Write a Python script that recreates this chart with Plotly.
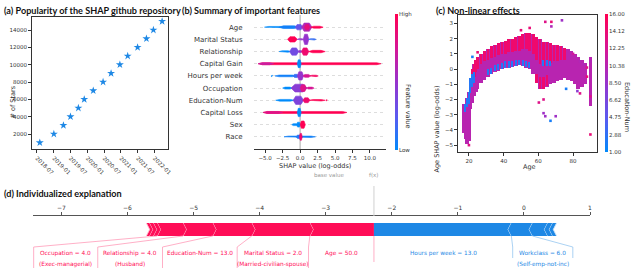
import plotly.graph_objects as go
from plotly.colors import sample_colorscale

W, H = 640, 268

# ---------------- (a) popularity ----------------
STAR_DATES = ['2018-08-01', '2019-01-01', '2019-04-15', '2019-07-01', '2019-09-25',
              '2019-11-28', '2020-03-05', '2020-06-20', '2020-09-15', '2020-12-20',
              '2021-03-15', '2021-07-01', '2021-10-05', '2021-12-20', '2022-03-25']
STAR_COUNTS = [1000, 2000, 3000, 4000, 5000, 6000, 7000, 8000, 9000, 10000,
               11000, 12000, 13000, 14000, 15000]
DATE_TICKS = ['2018-07-01', '2019-01-01', '2019-07-01', '2020-01-01',
              '2020-07-01', '2021-01-01', '2021-07-01', '2022-01-01']
DATE_TICK_TEXT = ['2018-07', '2019-01', '2019-07', '2020-01',
                  '2020-07', '2021-01', '2021-07', '2022-01']
STAR_TICKS = [2000, 4000, 6000, 8000, 10000, 12000, 14000]

# ---------------- (b) summary (beeswarm density segments) ----------------
# (x0, x1, half-thickness in rows, feature value 0..1)
FEATURES = ['Age', 'Marital Status', 'Relationship', 'Capital Gain', 'Hours per week',
            'Occupation', 'Education-Num', 'Capital Loss', 'Sex', 'Race']
SWARM_AGE = [(-5.1, -0.5, 0.06, 0.0), (-3.0, -0.2, 0.11, 0.05), (-0.7, 0.4, 0.22, 0.3),
             (0.2, 1.7, 0.34, 0.6), (0.6, 1.4, 0.22, 0.85), (1.5, 3.3, 0.08, 1.0)]
SWARM_MARITAL = [(-1.8, -0.4, 0.22, 1.0), (-0.4, 0.5, 0.06, 0.5), (0.45, 1.25, 0.42, 0.5),
                 (1.2, 2.3, 0.06, 0.15)]
SWARM_RELATIONSHIP = [(-3.0, -1.3, 0.06, 0.0), (-1.5, -0.2, 0.3, 0.35), (-0.3, 0.3, 0.08, 0.5),
                      (0.2, 1.25, 0.3, 0.9), (1.2, 3.6, 0.1, 1.0)]
SWARM_CAPGAIN = [(-6.0, 11.6, 0.08, 1.0), (-6.0, -3.8, 0.08, 0.7), (-0.4, 0.15, 0.32, 0.0)]
SWARM_HOURS = [(-4.15, -3.95, 0.06, 0.0), (-3.6, -0.5, 0.07, 0.05), (-1.0, -0.2, 0.13, 0.15),
               (-0.4, 0.5, 0.34, 0.5), (0.4, 1.5, 0.12, 0.75), (1.4, 2.6, 0.06, 0.95)]
SWARM_OCCUPATION = [(-2.5, -1.1, 0.08, 0.0), (-1.3, 1.0, 0.32, 0.45), (0.0, 0.9, 0.28, 0.8),
                    (0.9, 2.0, 0.08, 0.75)]
SWARM_EDUCATION = [(-3.5, -0.8, 0.07, 0.0), (-1.0, 0.5, 0.34, 0.4), (0.4, 1.4, 0.2, 0.9),
                   (1.3, 3.6, 0.06, 1.0), (3.72, 3.88, 0.06, 1.0)]
SWARM_CAPLOSS = [(-5.3, 6.7, 0.08, 1.0), (-5.3, -2.5, 0.08, 0.8), (-0.4, 0.15, 0.34, 0.0)]
SWARM_SEX = [(-1.2, -0.3, 0.08, 0.0), (-0.5, 0.05, 0.2, 0.0), (0.0, 0.75, 0.3, 1.0)]
SWARM_RACE = [(-2.3, 2.2, 0.06, 0.05), (-0.6, 0.4, 0.14, 0.1), (-0.1, 0.3, 0.28, 0.9)]
SWARMS = [SWARM_AGE, SWARM_MARITAL, SWARM_RELATIONSHIP, SWARM_CAPGAIN, SWARM_HOURS,
          SWARM_OCCUPATION, SWARM_EDUCATION, SWARM_CAPLOSS, SWARM_SEX, SWARM_RACE]
SHAP_TICKS = [-5, -2.5, 0, 2.5, 5, 7.5, 10]
SHAP_TICK_TEXT = ['\u22125.0', '\u22122.5', '0.0', '2.5', '5.0', '7.5', '10.0']
FEATURE_VALUE_LEVELS = [0.0, 0.25, 0.5, 0.75, 1.0]

# ---------------- (c) dependence ----------------
DEP_AGE = [17, 18, 19, 20, 21, 22, 23, 24, 25, 27, 29, 31, 33, 35, 37, 39, 41, 43, 45, 47, 49,
           51, 53, 55, 57, 59, 61, 63, 65, 67, 69, 71, 73, 75, 77, 79, 81, 83, 85, 87, 90]
DEP_LO = [-4.2, -4.6, -4.9, -4.7, -2.6, -2.2, -1.8, -1.5, -1.3, -0.9, -0.7, -0.5, -0.35, -0.2,
          -0.1, 0.0, 0.05, 0.1, 0.15, 0.2, 0.25, 0.2, 0.1, 0.0, -0.3, -0.9, -1.3, -1.3, -1.2,
          -1.0, -0.9, -0.8, -0.7, -0.6, -0.7, -0.8, -1.0, -1.3, -1.2, -1.0, -2.4]
DEP_HI = [-2.3, -2.3, -1.9, -1.5, -0.6, 0.0, 0.3, 0.6, 0.8, 1.0, 1.2, 1.3, 1.5, 1.6, 1.7, 1.8,
          1.85, 1.95, 2.0, 2.1, 2.2, 2.3, 2.4, 2.4, 2.3, 2.1, 2.0, 1.8, 1.8, 1.7, 1.6, 1.6, 1.5,
          1.4, 1.3, 1.2, 1.0, 0.8, 0.6, 0.4, 0.8]
DEP_RED_AGE = [22, 23, 24, 25, 27, 29, 31, 33, 35, 37, 39, 41, 43, 45, 47, 49, 51, 53, 55, 57,
               59, 61, 63, 65, 67, 69, 71, 73, 75, 59, 61, 63, 65]
DEP_RED_LO = [-0.8, -0.5, -0.2, 0.0, 0.3, 0.5, 0.6, 0.7, 0.8, 0.9, 1.0, 1.0, 1.1, 1.1, 1.2, 1.2,
              1.3, 1.3, 1.2, 1.0, 0.6, 0.3, 0.2, 0.3, 0.4, 0.5, 0.5, 0.6, 0.6,
              -0.9, -1.3, -1.3, -1.1]
DEP_RED_HI = [0.0, 0.3, 0.6, 0.8, 1.0, 1.2, 1.3, 1.5, 1.6, 1.7, 1.8, 1.85, 1.95, 2.0, 2.1, 2.2,
              2.3, 2.4, 2.4, 2.3, 2.1, 2.0, 1.8, 1.8, 1.7, 1.6, 1.6, 1.5, 1.4,
              -0.3, -0.5, -0.5, -0.4]
DEP_BLUE_AGE = [18, 19, 20, 21, 22, 23, 31, 33, 35, 37, 39, 41, 43, 45, 47, 49, 51, 53, 55,
                63, 65, 67]
DEP_BLUE_LO = [-2.8, -2.5, -2.3, -1.6, -1.2, -0.9, -0.4, -0.3, -0.15, -0.05, 0.0, 0.05, 0.1,
               0.15, 0.2, 0.25, 0.2, 0.15, 0.1, 0.2, 0.2, 0.2]
DEP_BLUE_HI = [-2.3, -1.9, -1.5, -0.6, -0.3, -0.2, 0.0, 0.1, 0.25, 0.35, 0.4, 0.5, 0.5, 0.55,
               0.6, 0.6, 0.6, 0.5, 0.45, 0.6, 0.6, 0.5]
DEP_PTS_AGE = [60.3, 63, 63, 64, 70, 67, 64, 67.5, 73.6, 67.5, 82.5, 84, 90, 20, 22, 25, 55,
               50, 88, 86, 88, 90, 90, 76, 84, 80]
DEP_PTS_Y = [-2.2, -2.0, -2.9, -3.1, -3.1, -3.4, 3.1, 3.1, 3.2, 2.8, -1.45, -1.6, -4.3, -5.0,
             0.8, 1.1, 2.7, 2.55, -0.5, 0.3, 0.1, -1.8, 0.5, -1.3, 0.5, 1.0]
DEP_PTS_EDU = [13, 13, 9, 9, 9, 2, 13, 14, 9, 10, 8, 13, 14, 13, 2, 14, 14, 14, 14, 10, 13,
               13, 10, 2, 10, 12]
EDU_TICKS = [1.0, 2.875, 4.75, 6.625, 8.5, 10.375, 12.25, 14.125, 16.0]
EDU_TICK_TEXT = ['1.00', '2.88', '4.75', '6.62', '8.50', '10.38', '12.25', '14.12', '16.00']

# ---------------- (d) force plot ----------------
BASE_VALUE = -2.95
POS_VALUES = [0.97, 0.88, 0.59, 0.45, 0.39, 0.06, 0.06, 0.045]
POS_LABELS = ['Age = 50.0', 'Marital Status = 2.0', 'Education-Num = 13.0',
              'Relationship = 4.0', 'Occupation = 4.0']
POS_SUBLABELS = ['', '(Married-civilian-spouse)', '', '(Husband)', '(Exec-managerial)']
NEG_VALUES = [2.08, 0.32, 0.23, 0.075, 0.06]
NEG_LABELS = ['Hours per week = 13.0', 'Workclass = 6.0']
NEG_SUBLABELS = ['', '(Self-emp-not-inc)']
FORCE_TICKS = [-7, -6, -5, -4, -3, -2, -1, 0, 1]
# label box edges (layout of the text boxes under the bar)
POS_LABEL_EDGES = [-3.26, -4.34, -5.47, -6.45, -7.42]
NEG_LABEL_EDGES = [-0.17, 0.74]

# ---------------- styling ----------------
SHAP_SCALE = [[0.0, 'rgb(0,139,251)'], [0.25, 'rgb(90,90,240)'], [0.5, 'rgb(150,52,205)'],
              [0.75, 'rgb(214,22,150)'], [1.0, 'rgb(255,0,82)']]
RED = '#FF0D57'
BLUE = '#1E88E5'
TICK_FONT = dict(family='DejaVu Sans', size=5.5, color='#333')
LABEL_FONT = dict(family='DejaVu Sans', size=6.5, color='#333')
FEAT_FONT = dict(family='DejaVu Sans', size=7, color='#333')
TITLE_FONT = dict(family='Lato', size=9.1, color='#111')


def px(p):
    return p / W


def py(p):
    return 1 - p / H


def col(v):
    return sample_colorscale(SHAP_SCALE, [min(max(v, 0), 1)])[0]


fig = go.Figure()

# ---- (a)
fig.add_trace(go.Scatter(x=STAR_DATES, y=STAR_COUNTS, mode='markers', xaxis='x', yaxis='y',
                         marker=dict(symbol='star', size=6, color=BLUE), hoverinfo='skip'))

# ---- (b)
n = len(FEATURES)
for i, (feat, segs) in enumerate(zip(FEATURES, SWARMS)):
    yc = n - 1 - i
    for (x0, x1, h, c) in segs:
        d = min(0.25 * (x1 - x0), 0.6)
        xs = [x0, x0 + d, x1 - d, x1, x1 - d, x0 + d, x0]
        ys = [yc, yc + h, yc + h, yc, yc - h, yc - h, yc]
        fig.add_trace(go.Scatter(x=xs, y=ys, mode='lines', fill='toself', fillcolor=col(c),
                                 line=dict(width=0.6, color=col(c)), xaxis='x2', yaxis='y2',
                                 hoverinfo='skip'))
fig.add_trace(go.Heatmap(x=[0, 1], y=FEATURE_VALUE_LEVELS,
                         z=[[v, v] for v in FEATURE_VALUE_LEVELS], zmin=0, zmax=1,
                         colorscale=SHAP_SCALE, zsmooth='best', showscale=False,
                         xaxis='x5', yaxis='y5', hoverinfo='skip'))

# ---- (c)
fig.add_trace(go.Bar(x=DEP_AGE, y=[h - l for l, h in zip(DEP_LO, DEP_HI)], base=DEP_LO,
                     width=2.1, xaxis='x3', yaxis='y3', hoverinfo='skip',
                     marker=dict(color=[10.5] * len(DEP_AGE), cmin=1, cmax=16,
                                 colorscale=SHAP_SCALE, line=dict(width=0))))
fig.add_trace(go.Bar(x=DEP_RED_AGE, y=[h - l for l, h in zip(DEP_RED_LO, DEP_RED_HI)],
                     base=DEP_RED_LO, width=1.6, xaxis='x3', yaxis='y3', hoverinfo='skip',
                     marker=dict(color=[14.5] * len(DEP_RED_AGE), cmin=1, cmax=16,
                                 colorscale=SHAP_SCALE, line=dict(width=0))))
fig.add_trace(go.Bar(x=DEP_BLUE_AGE, y=[h - l for l, h in zip(DEP_BLUE_LO, DEP_BLUE_HI)],
                     base=DEP_BLUE_LO, width=0.8, xaxis='x3', yaxis='y3', hoverinfo='skip',
                     marker=dict(color=[2.5] * len(DEP_BLUE_AGE), cmin=1, cmax=16,
                                 colorscale=SHAP_SCALE, line=dict(width=0))))
fig.add_trace(go.Scatter(x=DEP_PTS_AGE, y=DEP_PTS_Y, mode='markers', xaxis='x3', yaxis='y3',
                         hoverinfo='skip',
                         marker=dict(symbol='square', size=2.6, color=DEP_PTS_EDU, cmin=1,
                                     cmax=16, colorscale=SHAP_SCALE)))
fig.add_trace(go.Heatmap(x=[0, 1], y=EDU_TICKS, z=[[v, v] for v in EDU_TICKS], zmin=1, zmax=16,
                         colorscale=SHAP_SCALE, zsmooth='best', showscale=False,
                         xaxis='x6', yaxis='y6', hoverinfo='skip'))

# ---- (d) force plot
YT, YB, YM = -7, -20, -13.5
TIP = 0.05
FX = BASE_VALUE + sum(POS_VALUES) - sum(NEG_VALUES)
cur = FX
pos_lefts = []
for i, v in enumerate(POS_VALUES):
    right, left = cur, cur - v
    tr = 0 if i == 0 else TIP
    fig.add_trace(go.Scatter(x=[left, right, right + tr, right, left, left + TIP, left],
                             y=[YT, YT, YM, YB, YB, YM, YT], mode='lines', fill='toself',
                             fillcolor=RED, line=dict(width=0), xaxis='x4', yaxis='y4',
                             hoverinfo='skip'))
    fig.add_trace(go.Scatter(x=[left, left + TIP, left], y=[YT, YM, YB], mode='lines',
                             line=dict(width=1, color='#FFC2D4'), xaxis='x4', yaxis='y4',
                             hoverinfo='skip'))
    pos_lefts.append(left)
    cur = left
cur = FX
neg_rights = []
for i, v in enumerate(NEG_VALUES):
    left, right = cur, cur + v
    tl = 0 if i == 0 else TIP
    fig.add_trace(go.Scatter(x=[left, right, right - TIP, right, left, left - tl, left],
                             y=[YT, YT, YM, YB, YB, YM, YT], mode='lines', fill='toself',
                             fillcolor=BLUE, line=dict(width=0), xaxis='x4', yaxis='y4',
                             hoverinfo='skip'))
    fig.add_trace(go.Scatter(x=[right, right - TIP, right], y=[YT, YM, YB], mode='lines',
                             line=dict(width=1, color='#D0E6FA'), xaxis='x4', yaxis='y4',
                             hoverinfo='skip'))
    neg_rights.append(right)
    cur = right

annotations = []
shapes = []
LBL_Y, SUB_Y = -37, -48
lab_font = dict(family='DejaVu Sans', size=5.8)
right_edge = FX
for i, (lab, sub) in enumerate(zip(POS_LABELS, POS_SUBLABELS)):
    le = POS_LABEL_EDGES[i]
    fig.add_trace(go.Scatter(x=[pos_lefts[i], le, le], y=[YB, -31, -52], mode='lines',
                             line=dict(width=0.8, color='#FF9CB9'), xaxis='x4', yaxis='y4',
                             hoverinfo='skip'))
    mid = (le + right_edge) / 2
    annotations.append(dict(x=mid, y=LBL_Y, xref='x4', yref='y4', text=lab, showarrow=False,
                            font=dict(color=RED, **lab_font)))
    if sub:
        annotations.append(dict(x=mid, y=SUB_Y, xref='x4', yref='y4', text=sub,
                                showarrow=False, font=dict(color=RED, **lab_font)))
    right_edge = le
fig.add_trace(go.Scatter(x=[FX, FX], y=[YB, -46], mode='lines',
                         line=dict(width=0.8, color='#FF9CB9'), xaxis='x4', yaxis='y4',
                         hoverinfo='skip'))
left_edge = FX
for i, (lab, sub) in enumerate(zip(NEG_LABELS, NEG_SUBLABELS)):
    re = NEG_LABEL_EDGES[i]
    fig.add_trace(go.Scatter(x=[neg_rights[i], re, re], y=[YB, -31, -42], mode='lines',
                             line=dict(width=0.8, color='#95C6F0'), xaxis='x4', yaxis='y4',
                             hoverinfo='skip'))
    mid = (left_edge + re) / 2
    annotations.append(dict(x=mid, y=LBL_Y, xref='x4', yref='y4', text=lab, showarrow=False,
                            font=dict(color=BLUE, **lab_font)))
    if sub:
        annotations.append(dict(x=mid, y=SUB_Y, xref='x4', yref='y4', text=sub,
                                showarrow=False, font=dict(color=BLUE, **lab_font)))
    left_edge = re

shapes.append(dict(type='line', xref='x4', yref='paper', x0=FX, x1=FX, y0=py(216), y1=py(186),
                   line=dict(color='#D0D0D0', width=1)))
annotations.append(dict(x=FX, y=py(180), xref='x4', yref='paper', text='f(x)', showarrow=False,
                        font=dict(family='DejaVu Sans', size=5.5, color='#999')))
annotations.append(dict(x=BASE_VALUE, y=py(180), xref='x4', yref='paper', text='base value',
                        showarrow=False, font=dict(family='DejaVu Sans', size=5.5, color='#999')))

shapes.append(dict(type='line', xref='x2', yref='y2', x0=0, x1=0, y0=-1, y1=10,
                   line=dict(color='#AAAAAA', width=1), layer='below'))

for (x, y, t) in [(2, 10, '(a) Popularity of the SHAP github repository'),
                  (180, 10, '(b) Summary of important features'),
                  (434, 10, '(c) Non-linear effects'),
                  (2, 193, '(d) Individualized explanation')]:
    annotations.append(dict(x=px(x), y=py(y), xref='paper', yref='paper', text='<b>%s</b>' % t,
                            showarrow=False, xanchor='left', yanchor='middle', font=TITLE_FONT))
annotations += [
    dict(x=px(6), y=py(84), xref='paper', yref='paper', text='# of Stars', textangle=-90,
         showarrow=False, font=LABEL_FONT),
    dict(x=px(315), y=py(166), xref='paper', yref='paper', text='SHAP value (log-odds)',
         showarrow=False, font=LABEL_FONT),
    dict(x=px(408), y=py(82), xref='paper', yref='paper', text='Feature value', textangle=90,
         showarrow=False, font=LABEL_FONT),
    dict(x=px(442), y=py(84), xref='paper', yref='paper', text='Age SHAP value (log-odds)',
         textangle=-90, showarrow=False, font=LABEL_FONT),
    dict(x=px(538), y=py(167), xref='paper', yref='paper', text='Age', showarrow=False,
         font=LABEL_FONT),
    dict(x=px(633), y=py(80), xref='paper', yref='paper', text='Education-Num', textangle=90,
         showarrow=False, font=LABEL_FONT),
]

frame = dict(showline=True, linecolor='#333', linewidth=0.8, mirror=True, ticks='outside',
             ticklen=3, tickwidth=0.8, tickcolor='#333', tickfont=TICK_FONT, showgrid=False,
             zeroline=False)
hidden = dict(visible=False, fixedrange=True)

fig.update_layout(
    width=W, height=H, margin=dict(l=0, r=0, t=0, b=0, autoexpand=False), showlegend=False,
    paper_bgcolor='white', plot_bgcolor='white', barmode='overlay', bargap=0,
    xaxis=dict(frame, domain=[px(32), px(168)], anchor='y', type='date',
               range=['2018-05-08', '2022-05-28'], tickvals=DATE_TICKS,
               ticktext=DATE_TICK_TEXT, tickangle=45),
    yaxis=dict(frame, domain=[py(149), py(17)], anchor='x', range=[270, 15500],
               tickvals=STAR_TICKS, tickformat='d'),
    xaxis2=dict(domain=[px(254), px(386)], anchor='y2', range=[-6.6, 12.3],
                tickvals=SHAP_TICKS, ticktext=SHAP_TICK_TEXT, showline=True,
                linecolor='#333', linewidth=0.8, ticks='outside', ticklen=3, tickwidth=0.8,
                tickcolor='#333', tickfont=TICK_FONT, showgrid=False, zeroline=False),
    yaxis2=dict(domain=[py(149), py(15)], anchor='x2', range=[-1, 10],
                tickvals=list(range(n)), ticktext=FEATURES[::-1], showline=False,
                ticks='outside', ticklen=9, tickcolor='rgba(0,0,0,0)', tickfont=FEAT_FONT,
                showgrid=True, gridcolor='#DDDDDD', griddash='dot', gridwidth=0.6,
                zeroline=False),
    xaxis3=dict(frame, domain=[px(458), px(597)], anchor='y3', range=[13.7, 93.8],
                tickvals=[20, 40, 60, 80]),
    yaxis3=dict(frame, domain=[py(152), py(15)], anchor='x3', range=[-5.45, 3.55],
                tickvals=[-5, -4, -3, -2, -1, 0, 1, 2, 3]),
    xaxis4=dict(domain=[px(33), px(590)], anchor='y4', side='top', range=[-7.43, 1.0],
                tickvals=FORCE_TICKS, showline=True, linecolor='#555', linewidth=0.8,
                ticks='outside', ticklen=3, tickwidth=0.8, tickcolor='#555',
                tickfont=dict(family='DejaVu Sans', size=6, color='#333'), showgrid=False,
                zeroline=False),
    yaxis4=dict(domain=[0, py(216)], anchor='x4', range=[-52, 0], visible=False),
    xaxis5=dict(hidden, domain=[px(395), px(398)], anchor='y5', range=[0, 1]),
    yaxis5=dict(domain=[py(150), py(14)], anchor='x5', range=[0, 1], side='right',
                tickvals=[0, 1], ticktext=['Low', 'High'], ticks='', showline=False,
                showgrid=False, zeroline=False, tickfont=TICK_FONT, fixedrange=True),
    xaxis6=dict(hidden, domain=[px(605), px(608)], anchor='y6', range=[0, 1]),
    yaxis6=dict(domain=[py(152), py(14)], anchor='x6', range=[1, 16], side='right',
                tickvals=EDU_TICKS, ticktext=EDU_TICK_TEXT, ticks='', showline=False,
                showgrid=False, zeroline=False, tickfont=TICK_FONT, fixedrange=True),
    annotations=annotations, shapes=shapes,
)

fig.write_html('out.html', config={'displayModeBar': False},
               post_script="document.body.style.margin='0';document.body.style.padding='0';"
                           "document.body.style.overflow='hidden';")
